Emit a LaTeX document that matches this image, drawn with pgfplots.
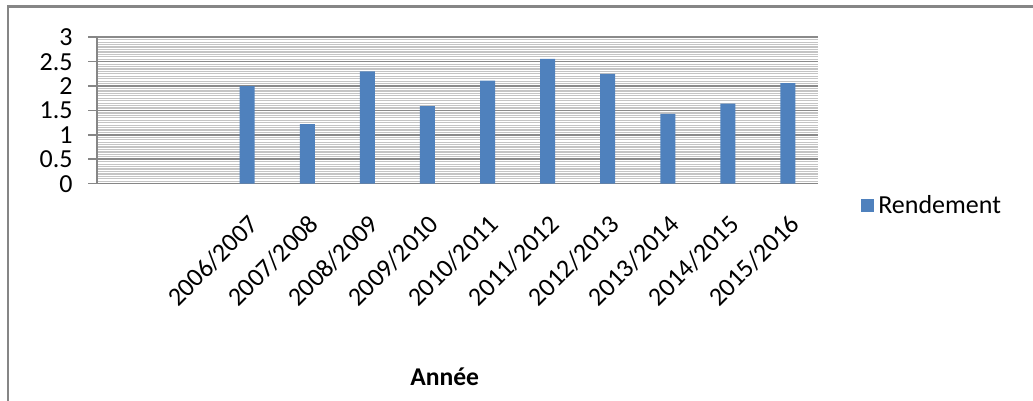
\documentclass[border=0pt]{standalone}
\usepackage{fontspec}
\setmainfont{Carlito}
\usepackage{pgfplots}
\pgfplotsset{compat=1.18}
\definecolor{barblue}{HTML}{4F81BD}
\definecolor{majgrid}{HTML}{8A8A8A}
\definecolor{mingrid}{HTML}{C4C4C4}
\definecolor{frame}{HTML}{868686}
\begin{document}
\begin{tikzpicture}
\useasboundingbox (0,0) rectangle (516.5pt,200.5pt);
\draw[frame, line width=1.2pt] (4pt,-2pt) -- (4pt,197.25pt) -- (520pt,197.25pt);
\begin{axis}[
  at={(48.5pt,108.65pt)}, anchor=south west,
  width=360.5pt, height=73.2pt, scale only axis,
  xmin=-0.5, xmax=11.5, ymin=0, ymax=3,
  axis x line*=bottom, axis y line*=left,
  axis line style={frame, line width=0.8pt},
  xtick={2,3,4,5,6,7,8,9,10,11},
  xticklabels={2006/2007,2007/2008,2008/2009,2009/2010,2010/2011,2011/2012,2012/2013,2013/2014,2014/2015,2015/2016},
  ytick={0,0.5,1,1.5,2,2.5,3},
  yticklabels={0,0.5,1,1.5,2,2.5,3},
  minor ytick={0.05,0.1,...,2.96},
  ymajorgrids, yminorgrids,
  major grid style={majgrid, line width=0.8pt},
  minor grid style={mingrid, line width=0.6pt},
  tick align=outside, major tick length=4.5pt, minor tick length=0pt,
  xtick style={draw=none},
  ytick style={frame, line width=0.8pt},
  yticklabel style={font=\fontsize{13}{15}\selectfont, anchor=east, inner sep=0pt, xshift=-7.5pt},
  xticklabel style={font=\fontsize{13}{15}\selectfont, inner sep=0pt, xshift=3.5pt, yshift=-13.5pt, rotate=45, anchor=east},
  xlabel={\bfseries Année},
  xlabel style={font=\fontsize{12.8}{15}\selectfont, at={(axis description cs:0.4822,-1.375)}, anchor=base},
  legend style={at={(axis description cs:1.0592,-0.149)}, anchor=west, draw=none, fill=none, inner sep=0pt,
    font=\fontsize{13}{15}\selectfont, legend cell align=left},
  legend image code/.code={\fill[barblue] (0pt,-3.3pt) rectangle (6.6pt,3.3pt);},
]
\addplot[ybar, bar width=7.5pt, fill=barblue, draw=none] coordinates {
  (2,2.00) (3,1.22) (4,2.30) (5,1.59) (6,2.11) (7,2.56) (8,2.25) (9,1.43) (10,1.64) (11,2.06)
};
\addlegendentry{Rendement}
\end{axis}
\end{tikzpicture}
\end{document}
